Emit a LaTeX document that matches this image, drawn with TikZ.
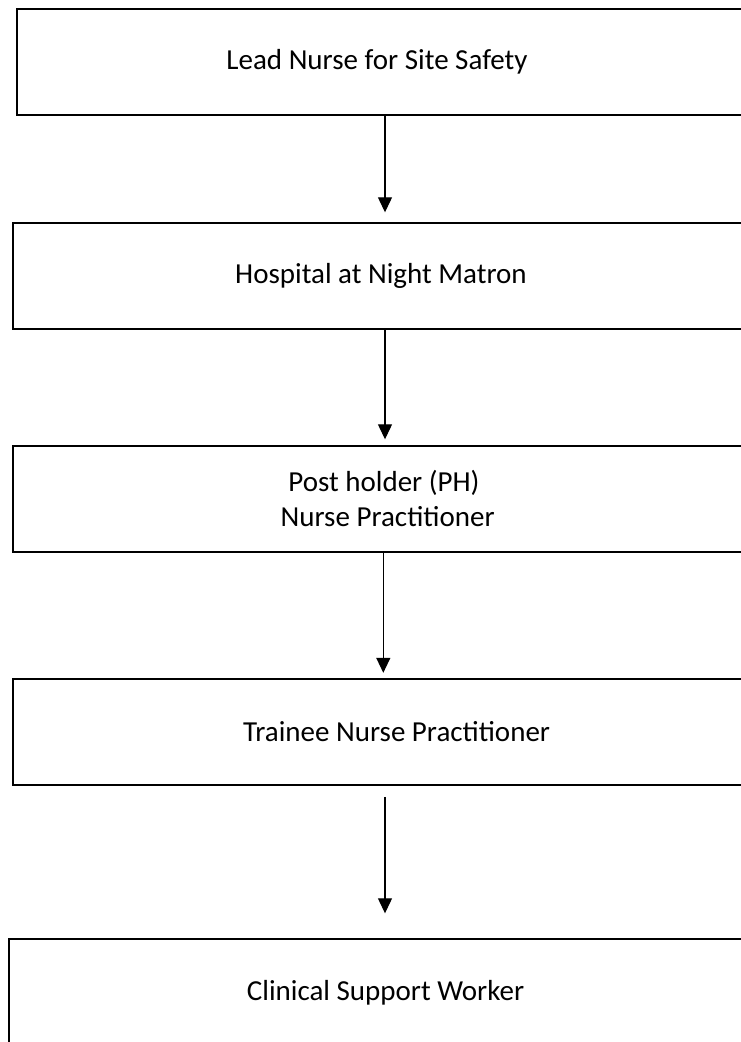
\documentclass[tikz,border=0pt]{standalone}
\usepackage{fontspec}
\setmainfont{Carlito}
\usepackage{tikz}
\usetikzlibrary{positioning, arrows.meta}

\begin{document}
\begin{tikzpicture}[
    >={Triangle[length=15pt, width=14pt]},
    box/.style  ={draw, rectangle, line width=2pt, outer sep=0pt, minimum height=106pt, minimum width=800pt, align=center, font=\fontsize{29}{35}\selectfont},
    link/.style ={->, line width=1.2pt},
]
\useasboundingbox (0,0) rectangle (741pt,-1042pt);
\clip (0,0) rectangle (741pt,-1042pt);

% boxes run off the right edge of the page
\node[box, minimum width=792.6pt] (lead) at (412.8pt,-62.2pt) {Lead Nurse for Site Safety\hspace*{71.6pt}};
\node[box, below=107.6pt of lead]   (matron)  {Hospital at Night Matron\hspace*{63.6pt}};
\node[box, below=117pt of matron]   (np)      {Post holder (PH)\hspace*{57.6pt}\\Nurse Practitioner\hspace*{50.4pt}};
\node[box, below=127pt of np]       (trainee) {Trainee Nurse Practitioner\hspace*{32.6pt}};
\node[box, minimum width=808.6pt, below=154.5pt of trainee] (csw) {Clinical Support Worker\hspace*{54.4pt}};

\draw[link, shorten >=10.5pt] ([xshift=-27.8pt]lead.south)   -- ([xshift=-27.8pt]matron.north);
\draw[link, shorten >=6.5pt]  ([xshift=-27.8pt]matron.south) -- ([xshift=-27.8pt]np.north);
\draw[link, shorten >=6pt]    ([xshift=-29.5pt]np.south)     -- ([xshift=-29.5pt]trainee.north);
\draw[link, shorten <=12pt, shorten >=26pt] ([xshift=-27.8pt]trainee.south) -- ([xshift=-27.8pt]csw.north);

\end{tikzpicture}
\end{document}
